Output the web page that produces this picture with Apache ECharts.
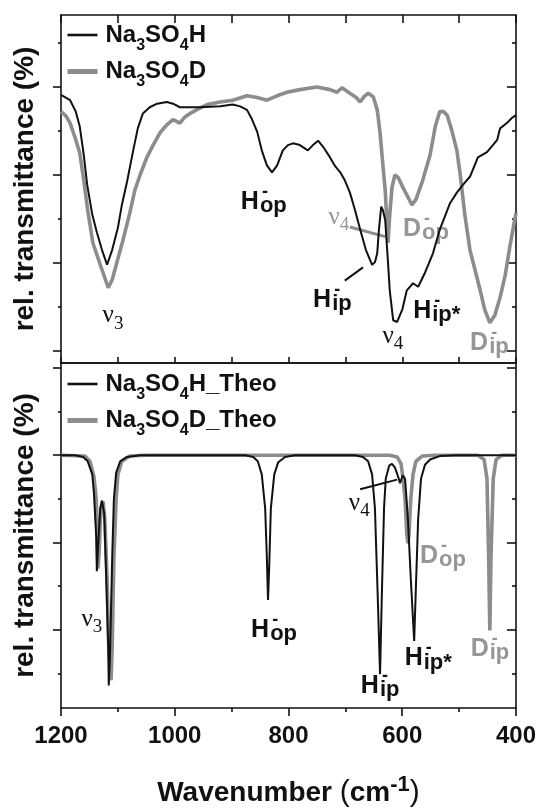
<!DOCTYPE html>
<html>
<head>
<meta charset="utf-8">
<title>Na3SO4H / Na3SO4D IR spectra</title>
<script src="https://cdn.jsdelivr.net/npm/echarts@6/dist/echarts.min.js"></script>
<style>
  html, body { margin: 0; padding: 0; background: #fff; }
  #chart { width: 539px; height: 809px; }
</style>
</head>
<body>
<div id="chart"></div>
<script>
// [wavenumber cm-1, rel. transmittance]
const exptH = [
  [1200, 2.91], [1184, 2.85], [1174, 2.72], [1167, 2.55], [1160, 2.23], [1154, 1.89], [1145, 1.55],
  [1137, 1.35], [1128, 1.15], [1119, 0.98], [1110, 1.15], [1100, 1.40], [1093, 1.66], [1084, 1.92],
  [1073, 2.28], [1065, 2.53], [1056, 2.70], [1044, 2.77], [1031, 2.81], [1014, 2.83], [1003, 2.81],
  [991, 2.77], [956, 2.77], [920, 2.78], [898, 2.80], [885, 2.78], [873, 2.74], [864, 2.63],
  [855, 2.49], [847, 2.28], [838, 2.11], [829, 2.03], [820, 2.11], [810, 2.28], [801, 2.34],
  [792, 2.36], [780, 2.34], [766, 2.28], [757, 2.34], [748, 2.39], [738, 2.31], [727, 2.20],
  [718, 2.10], [709, 2.03], [701, 1.94], [692, 1.80], [683, 1.60], [674, 1.38], [664, 1.15],
  [653, 0.98], [648, 1.01], [644, 1.11], [641, 1.38], [637, 1.64], [634, 1.60], [630, 1.49],
  [625, 1.00], [622, 0.69], [616, 0.35], [609, 0.33], [600, 0.47], [592, 0.69], [581, 0.77],
  [572, 0.73], [560, 0.89], [546, 1.11], [534, 1.38], [516, 1.68], [504, 1.80], [493, 1.89],
  [481, 1.98], [467, 2.20], [451, 2.26], [433, 2.40], [428, 2.53], [416, 2.59], [407, 2.65], [400, 2.68],
];
const exptD = [
  [1200, 2.72], [1191, 2.67], [1184, 2.59], [1175, 2.42], [1167, 2.25], [1160, 1.94], [1153, 1.60],
  [1144, 1.23], [1131, 0.98], [1117, 0.72], [1110, 0.81], [1102, 1.00], [1091, 1.26], [1079, 1.57],
  [1070, 1.83], [1061, 2.00], [1049, 2.20], [1038, 2.34], [1026, 2.48], [1014, 2.57], [1003, 2.63],
  [991, 2.59], [982, 2.66], [973, 2.70], [956, 2.76], [943, 2.80], [920, 2.83], [898, 2.85],
  [873, 2.90], [855, 2.88], [838, 2.85], [820, 2.90], [803, 2.94], [780, 2.97], [750, 3.00],
  [727, 2.97], [715, 2.94], [706, 2.99], [692, 2.93], [681, 2.88], [674, 2.83], [667, 2.89],
  [660, 2.93], [651, 2.89], [644, 2.74], [639, 2.48], [634, 2.11], [630, 1.83], [625, 1.23],
  [622, 1.55], [618, 1.86], [613, 2.00], [607, 1.97], [599, 1.86], [590, 1.75], [583, 1.66],
  [576, 1.72], [564, 1.94], [551, 2.23], [542, 2.55], [534, 2.72], [527, 2.72], [521, 2.68],
  [513, 2.51], [504, 2.28], [498, 2.00], [490, 1.55], [481, 1.15], [463, 0.69], [455, 0.47],
  [446, 0.32], [437, 0.41], [428, 0.61], [419, 0.86], [411, 1.18], [400, 1.57],
];
const theoH = [
  [1200, 2.00], [1175, 2.00], [1161, 1.98], [1153, 1.93], [1145, 1.78], [1142, 1.56], [1138, 1.05],
  [1137, 0.67], [1135, 0.93], [1131, 1.39], [1128, 1.48], [1124, 1.33], [1121, 0.70], [1117, -0.20],
  [1116, -0.64], [1114, -0.32], [1110, 0.82], [1107, 1.50], [1103, 1.80], [1096, 1.93], [1084, 1.98],
  [1061, 2.00], [876, 2.00], [862, 1.98], [854, 1.93], [847, 1.78], [841, 1.39], [838, 0.82],
  [836, 0.34], [834, 0.70], [831, 1.39], [825, 1.78], [818, 1.92], [806, 1.98], [789, 2.00],
  [683, 2.00], [669, 1.98], [660, 1.93], [653, 1.78], [648, 1.39], [643, 0.36], [639, -0.51],
  [636, 0.36], [632, 1.39], [629, 1.73], [623, 1.88], [618, 1.90], [613, 1.86], [607, 1.75],
  [604, 1.68], [599, 1.77], [595, 1.73], [590, 1.27], [585, 0.59], [579, -0.13], [576, 0.48],
  [572, 1.27], [567, 1.73], [560, 1.89], [551, 1.95], [534, 1.99], [507, 2.00], [400, 2.00],
];
const theoD = [
  [1200, 2.00], [1158, 1.99], [1149, 1.93], [1142, 1.75], [1138, 1.50], [1135, 0.70], [1133, 0.88],
  [1130, 1.39], [1126, 1.47], [1123, 1.27], [1119, 0.59], [1116, -0.20], [1112, -0.58], [1110, -0.20],
  [1107, 0.82], [1103, 1.50], [1100, 1.78], [1093, 1.93], [1079, 1.99], [1052, 2.00], [622, 2.00],
  [609, 1.98], [602, 1.90], [599, 1.75], [595, 1.50], [592, 1.10], [590, 0.99], [588, 1.10],
  [585, 1.50], [581, 1.78], [576, 1.93], [565, 1.99], [542, 2.00], [467, 2.00], [456, 1.95],
  [451, 1.73], [448, 0.82], [446, -0.01], [444, 0.82], [440, 1.73], [435, 1.95], [425, 2.00], [400, 2.00],
];

const seriesNames = ["Na3SO4H", "Na3SO4D", "Na3SO4H_Theo", "Na3SO4D_Theo"];
const majorTicks = [0, 1, 2, 3];
const minorTicksTop = [0.5, 1.5, 2.5, 3.5];
const minorTicksBottom = [-0.5, 0.5, 1.5, 2.5];

// band labels: [main, sub, wavenumber, value, which compound]
const topNotes = [
  ["ν", "3", 1107, 0.375, "H"],
  ["H", "op", 852, 1.69, "H"],
  ["ν", "4", 710, 1.49, "D"],
  ["D", "op", 567, 1.39, "D"],
  ["H", "ip", 725, 0.58, "H"],
  ["ν", "4", 615, 0.14, "H"],
  ["H", "ip*", 549, 0.45, "H"],
  ["D", "ip", 449, 0.09, "D"],
];
const bottomNotes = [
  ["ν", "3", 1144, 0.09, "H"],
  ["H", "op", 834, 0.0, "H"],
  ["ν", "4", 674, 1.42, "H"],
  ["H", "ip", 641, -0.65, "H"],
  ["H", "ip*", 564, -0.33, "H"],
  ["D", "op", 537, 0.84, "D"],
  ["D", "ip", 448, -0.22, "D"],
];
const topPointers = [
  [[692, 1.41], [630, 1.3], "D"],
  [[701, 0.8], [669, 0.95], "H"],
];
const bottomPointers = [[[674, 1.61], [609, 1.72], "H"]];

const BLACK = "#111111";
const GREY = "#8c8c8c";
const GREY_TEXT = "#969696";
const SANS = "Liberation Sans";
const SERIF = "Liberation Serif";

const frameLine = { show: true, onZero: false, lineStyle: { color: BLACK, width: 1.6 } };
const tickLine = { color: BLACK, width: 1.6 };

function xAxes(gridIndex, bottomOpts, topOpts) {
  const base = {
    gridIndex, type: "value", min: 400, max: 1200, inverse: true, interval: 100,
    axisLine: frameLine, splitLine: { show: false }, axisLabel: { show: false },
  };
  return [
    Object.assign({}, base, { position: "bottom" }, bottomOpts),
    Object.assign({}, base, { position: "top" }, topOpts),
  ];
}

function yAxes(gridIndex, min, max, minor) {
  const base = {
    gridIndex, type: "value", min, max,
    splitLine: { show: false }, axisLabel: { show: false },
  };
  return [
    Object.assign({}, base, {
      position: "left", axisLine: frameLine,
      axisTick: { customValues: majorTicks, length: 8, lineStyle: tickLine },
      name: "rel. transmittance (%)", nameLocation: "middle", nameGap: 22,
      nameTextStyle: { fontFamily: SANS, fontWeight: "bold", fontSize: 28, color: BLACK },
    }),
    Object.assign({}, base, {
      position: "left", axisLine: { show: false, onZero: false },
      axisTick: { customValues: minor, length: 3, lineStyle: tickLine },
    }),
    Object.assign({}, base, {
      position: "right", axisLine: frameLine,
      axisTick: { inside: true, customValues: majorTicks, length: 9, lineStyle: tickLine },
    }),
    Object.assign({}, base, {
      position: "right", axisLine: { show: false, onZero: false },
      axisTick: { inside: true, customValues: minor, length: 4, lineStyle: tickLine },
    }),
  ];
}

function line(name, data, xAxisIndex, yAxisIndex, color, width, z) {
  return {
    name, type: "line", data, xAxisIndex, yAxisIndex, z,
    symbol: "none", showSymbol: false, clip: true,
    lineStyle: { color, width }, itemStyle: { color },
  };
}

function legend(names, top) {
  return {
    data: [
      { name: names[0], lineStyle: { width: 2.6, color: BLACK }, itemStyle: { opacity: 0 } },
      { name: names[1], lineStyle: { width: 5, color: GREY }, itemStyle: { opacity: 0 } },
    ],
    orient: "vertical", left: 60, top, itemWidth: 30, itemHeight: 12, itemGap: 6,
    selectedMode: false,
    formatter: (name) => name.replace(/(\d)/g, "{s|$1}"),
    textStyle: {
      fontFamily: SANS, fontWeight: "bold", fontSize: 24, color: BLACK, padding: [0, 0, 0, 3],
      rich: { s: { fontFamily: SANS, fontWeight: "bold", fontSize: 16, color: BLACK, padding: [21, 0, 0, 0] } },
    },
  };
}

const chart = echarts.init(document.getElementById("chart"));
chart.setOption({
  animation: false,
  backgroundColor: "#fff",
  grid: [
    { left: 61, right: 23, top: 15, height: 348 },
    { left: 61, right: 23, top: 363, height: 348 },
  ],
  xAxis: [
    ...xAxes(0,
      { axisTick: { inside: true, length: 6, lineStyle: tickLine } },
      { axisTick: { inside: true, length: 8, lineStyle: tickLine } }),
    ...xAxes(1,
      {
        interval: 200,
        axisTick: { length: 8, lineStyle: tickLine },
        minorTick: { show: true, splitNumber: 2, length: 4, lineStyle: tickLine },
        axisLabel: {
          show: true, margin: 16, fontFamily: SANS, fontWeight: "bold", fontSize: 24, color: BLACK,
          formatter: (v) => String(v),
        },
        name: "Wavenumber {p|(}cm{sup|-1}{p|)}", nameLocation: "middle", nameGap: 66,
        nameTextStyle: {
          fontFamily: SANS, fontWeight: "bold", fontSize: 28, color: BLACK,
          rich: {
            p: { fontFamily: SANS, fontWeight: "normal", fontSize: 30, color: BLACK },
            sup: { fontFamily: SANS, fontWeight: "bold", fontSize: 22, color: BLACK, padding: [0, 0, 16, 0] },
          },
        },
      },
      { axisTick: { show: false } }),
  ],
  yAxis: [
    ...yAxes(0, -0.136, 3.818, minorTicksTop),
    ...yAxes(1, -0.898, 3.057, minorTicksBottom),
  ],
  legend: [legend(seriesNames.slice(0, 2), 18), legend(seriesNames.slice(2, 4), 367)],
  series: [
    line(seriesNames[1], exptD, 0, 0, GREY, 3.6, 2),
    line(seriesNames[0], exptH, 0, 0, BLACK, 2, 3),
    line(seriesNames[3], theoD, 2, 4, GREY, 3.6, 2),
    line(seriesNames[2], theoH, 2, 4, BLACK, 2, 3),
  ],
});

function toPixel(xi, yi, pt) {
  return [chart.convertToPixel({ xAxisIndex: xi }, pt[0]), chart.convertToPixel({ yAxisIndex: yi }, pt[1])];
}

function noteGraphic(note, xi, yi) {
  const [main, sub, wn, val, tag] = note;
  const [x, y] = toPixel(xi, yi, [wn, val]);
  const fill = tag === "D" ? GREY_TEXT : BLACK;
  if (main === "ν") {
    return {
      type: "group", x, y, children: [
        { type: "text", style: { text: "ν", x: 0, y: -2.5, align: "right", verticalAlign: "middle", fontFamily: SERIF, fontSize: 25, fill } },
        { type: "text", style: { text: sub, x: 0, y: 5.5, align: "left", verticalAlign: "middle", fontFamily: SERIF, fontSize: 19, fill } },
      ],
    };
  }
  return {
    type: "group", x, y, children: [
      { type: "text", style: { text: main, x: 0, y: 0, align: "right", verticalAlign: "middle", fontFamily: SANS, fontWeight: "bold", fontSize: 25, fill } },
      { type: "text", style: { text: sub, x: 1, y: 4, align: "left", verticalAlign: "middle", fontFamily: SANS, fontWeight: "bold", fontSize: 22, fill } },
      { type: "text", style: { text: "-", x: 3, y: -10, align: "left", verticalAlign: "middle", fontFamily: SANS, fontWeight: "bold", fontSize: 18, fill } },
    ],
  };
}

function pointerGraphic(p, xi, yi) {
  const [a, b, tag] = p;
  const [x1, y1] = toPixel(xi, yi, a);
  const [x2, y2] = toPixel(xi, yi, b);
  return {
    type: "line", shape: { x1, y1, x2, y2 },
    style: { stroke: tag === "D" ? GREY : BLACK, lineWidth: tag === "D" ? 3 : 2 },
  };
}

chart.setOption({
  graphic: [
    ...topNotes.map((n) => noteGraphic(n, 0, 0)),
    ...bottomNotes.map((n) => noteGraphic(n, 2, 4)),
    ...topPointers.map((p) => pointerGraphic(p, 0, 0)),
    ...bottomPointers.map((p) => pointerGraphic(p, 2, 4)),
  ],
});
</script>
</body>
</html>
